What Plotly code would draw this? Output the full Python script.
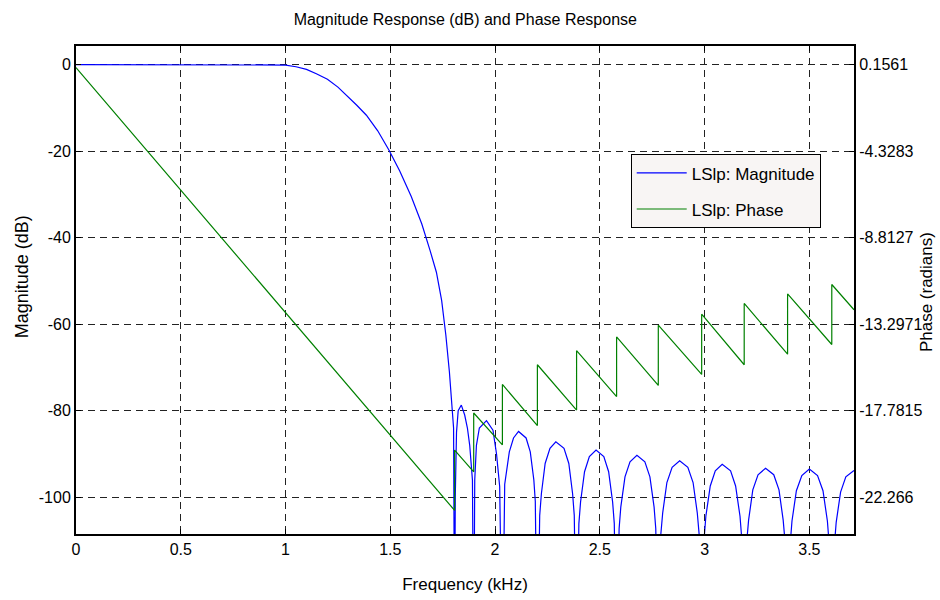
import plotly.graph_objects as go

# ---- data ----
mag_freq = [0, 0.25, 0.5, 0.75, 0.95, 1.0, 1.05, 1.10, 1.147, 1.20, 1.25, 1.29, 1.34, 1.386, 1.44,
            1.494, 1.545, 1.60, 1.65, 1.69, 1.72, 1.745, 1.765, 1.782, 1.795, 1.802, 1.807,
            1.810, 1.816, 1.824, 1.839, 1.855, 1.868, 1.879, 1.892, 1.898,
            1.903, 1.911, 1.925, 1.959, 1.990, 2.007, 2.022, 2.035,
            2.046, 2.052, 2.068, 2.088, 2.112, 2.148, 2.168, 2.185, 2.192, 2.202,
            2.213, 2.221, 2.239, 2.262, 2.290, 2.329, 2.352, 2.370, 2.378, 2.389,
            2.400, 2.408, 2.427, 2.450, 2.482, 2.519, 2.542, 2.561, 2.569, 2.580,
            2.592, 2.600, 2.620, 2.644, 2.677, 2.715, 2.739, 2.759, 2.767, 2.779,
            2.791, 2.800, 2.820, 2.845, 2.881, 2.920, 2.945, 2.965, 2.974, 2.986,
            2.998, 3.006, 3.027, 3.051, 3.084, 3.124, 3.148, 3.169, 3.177, 3.189,
            3.201, 3.210, 3.230, 3.255, 3.291, 3.330, 3.355, 3.375, 3.384, 3.396,
            3.409, 3.417, 3.438, 3.464, 3.500, 3.539, 3.565, 3.586, 3.594, 3.607,
            3.620, 3.628, 3.649, 3.674, 3.713]
mag_db = [0, 0, 0, 0, 0, -0.1, -0.5, -1.1, -2.1, -3.4, -5.2, -7.0, -9.4, -11.7, -15.3,
          -19.8, -24.6, -30.5, -36.8, -43.0, -48.0, -54.5, -62.5, -71.0, -78.5, -84.0, -140,
          -100, -85, -80, -78.7, -81, -84, -88, -96, -140,
          -96, -88, -84, -82.3, -84.5, -90, -97.5, -140,
          -97, -95, -89.5, -86.3, -84.8, -86.3, -89.5, -96, -101, -140,
          -104.2, -99.2, -92.2, -88.7, -87.2, -88.7, -92.2, -99.2, -104.2, -140,
          -106.1, -101.1, -94.1, -90.6, -89.1, -90.6, -94.1, -101.1, -106.1, -140,
          -107.3, -102.3, -95.3, -91.8, -90.3, -91.8, -95.3, -102.3, -107.3, -140,
          -108.6, -103.6, -96.6, -93.1, -91.6, -93.1, -96.6, -103.6, -108.6, -140,
          -109.4, -104.4, -97.4, -93.9, -92.4, -93.9, -97.4, -104.4, -109.4, -140,
          -110.3, -105.3, -98.3, -94.8, -93.3, -94.8, -98.3, -105.3, -110.3, -140,
          -110.5, -105.5, -98.5, -95.0, -93.5, -95.0, -98.5, -105.5, -110.5, -140,
          -110.8, -105.8, -98.8, -95.3, -93.8]

phase_freq = [0, 1.807, 1.807, 1.898, 1.898, 2.035, 2.035, 2.202, 2.202, 2.389, 2.389,
              2.580, 2.580, 2.779, 2.779, 2.986, 2.986, 3.189, 3.189, 3.396, 3.396,
              3.607, 3.607, 3.713]
phase_rad = [0, -22.95, -19.82, -20.95, -17.90, -19.55, -16.42, -18.55, -15.40, -17.75, -14.67,
             -17.05, -13.96, -16.47, -13.35, -15.90, -12.78, -15.40, -12.22, -14.85, -11.73,
             -14.35, -11.24, -12.55]

x_ticks = [0, 0.5, 1, 1.5, 2, 2.5, 3, 3.5]
x_ticktext = ["0", "0.5", "1", "1.5", "2", "2.5", "3", "3.5"]
mag_ticks = [-100, -80, -60, -40, -20, 0]
mag_ticktext = ["-100", "-80", "-60", "-40", "-20", "0"]
phase_ticks = [-22.266, -17.7815, -13.2971, -8.8127, -4.3283, 0.1561]
phase_ticktext = ["-22.266", "-17.7815", "-13.2971", "-8.8127", "-4.3283", "0.1561"]

mag_range = [-108.5, 4.3]
# phase axis aligned with magnitude axis: 20 dB <-> 4.4844 rad
phase_range = [0.1561 + mag_range[0] / 20 * 4.4844, 0.1561 + mag_range[1] / 20 * 4.4844]

FONT = "Liberation Sans, Arial, sans-serif"

fig = go.Figure()
fig.add_trace(go.Scatter(x=mag_freq, y=mag_db, mode="lines", name="LSlp: Magnitude",
                         line=dict(color="#0000ff", width=1.2), yaxis="y", legendgroup="a"))
fig.add_trace(go.Scatter(x=phase_freq, y=phase_rad, mode="lines", name="LSlp: Phase",
                         line=dict(color="#008000", width=1.2), yaxis="y2", legendgroup="b"))

axis_common = dict(showline=True, linecolor="black", linewidth=2, ticks="inside", ticklen=5,
                   tickcolor="black", automargin=False,
                   tickfont=dict(family=FONT, size=16, color="black"))

fig.update_layout(
    width=940, height=600,
    margin=dict(l=76, r=86, t=46, b=66),
    paper_bgcolor="white", plot_bgcolor="white",
    font=dict(family=FONT, size=16, color="black"),
    title=dict(text="Magnitude Response (dB) and Phase Response", x=0.495, xanchor="center",
               y=0.968, yanchor="middle", font=dict(family=FONT, size=16, color="black")),
    xaxis=dict(range=[0, 3.713], tickvals=x_ticks, ticktext=x_ticktext, mirror="ticks",
               showgrid=True, gridcolor="#222222", griddash="7px,5px", gridwidth=1,
               zeroline=False,
               title=dict(text="Frequency (kHz)", font=dict(family=FONT, size=17), standoff=21),
               **axis_common),
    yaxis=dict(range=mag_range, tickvals=mag_ticks, ticktext=mag_ticktext, mirror=True,
               showgrid=True, gridcolor="#222222", griddash="7px,5px", gridwidth=1,
               zeroline=False, **axis_common),
    yaxis2=dict(range=phase_range, tickvals=phase_ticks, ticktext=phase_ticktext,
                overlaying="y", side="right", showgrid=False, zeroline=False,
                **axis_common),
    showlegend=True,
    legend=dict(x=0.713, y=0.778, xanchor="left", yanchor="top",
                bgcolor="#f8f5f4", bordercolor="black", borderwidth=1,
                font=dict(family=FONT, size=17, color="black"),
                itemwidth=50, tracegroupgap=11, traceorder="grouped"),
    annotations=[
        dict(text="Magnitude (dB)", xref="paper", yref="paper", x=-0.0694, y=0.526,
             xanchor="center", yanchor="middle", textangle=-90, showarrow=False,
             font=dict(family=FONT, size=18, color="black")),
        dict(text="Phase (radians)", xref="paper", yref="paper", x=1.094, y=0.496,
             xanchor="center", yanchor="middle", textangle=-90, showarrow=False,
             font=dict(family=FONT, size=17, color="black")),
    ],
)

fig.write_html("out.html")
